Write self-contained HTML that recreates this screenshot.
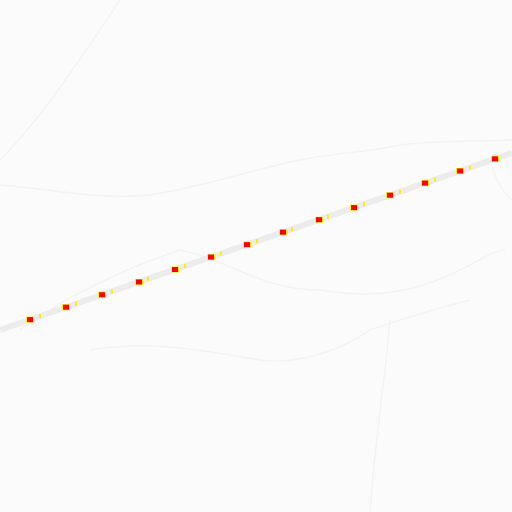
<!DOCTYPE html>
<html><head><meta charset="utf-8"><style>
html,body{margin:0;padding:0;background:#fbfbfb;width:512px;height:512px;overflow:hidden}
</style></head><body>
<svg id="map" width="512" height="512" viewBox="0 0 512 512" xmlns="http://www.w3.org/2000/svg">
<rect width="512" height="512" fill="#fbfbfb"/>
<g fill="none" stroke="#f3f3f3" stroke-width="1.5">
<path d="M0 185 C60 190 100 200 150 195 C210 185 250 170 300 160 C340 152 370 152 400 145 C440 140 470 142 512 140"/>
<path d="M0 160 C40 120 80 60 120 0"/>
<path d="M20 330 C60 300 120 270 180 250 C230 260 260 290 320 290 C380 300 420 290 460 270 C480 260 495 250 505 250"/>
<path d="M90 350 C150 340 200 350 260 360 C300 365 340 350 370 330 C400 320 430 310 470 300"/>
<path d="M390 320 C385 380 375 440 370 512"/>
<path d="M490 160 C495 180 505 195 512 200"/>
</g>
<g id="route"></g>
</svg>
<script>
const redX = [30,66,102,139,175,211,247,283,319,354,390,425,460,495];
const yellowX = [40,76,112,148,185,221,257,292,328,364,400,435,470];
function yAt(x){ return 330 - (330-153)*(x/512); }
const NS="http://www.w3.org/2000/svg";
const g=document.getElementById('route');
const line=document.createElementNS(NS,'line');
line.setAttribute('x1',0);line.setAttribute('y1',yAt(0));
line.setAttribute('x2',512);line.setAttribute('y2',yAt(512));
line.setAttribute('stroke','#ececec');line.setAttribute('stroke-width','6');


g.appendChild(line);
yellowX.forEach(x=>{
  const r=document.createElementNS(NS,'rect');
  r.setAttribute('x',x-1);r.setAttribute('y',yAt(x)-2);r.setAttribute('width',2);r.setAttribute('height',4);
  r.setAttribute('fill','#ffee00');
  
  
  g.appendChild(r);
});
redX.forEach(x=>{
  const h=document.createElementNS(NS,'rect');
  h.setAttribute('x',x-4);h.setAttribute('y',yAt(x)-3);h.setAttribute('width',8);h.setAttribute('height',6);
  h.setAttribute('fill','#ffee00');
  
  
  g.appendChild(h);
  const r=document.createElementNS(NS,'rect');
  r.setAttribute('x',x-3);r.setAttribute('y',yAt(x)-2.5);r.setAttribute('width',6);r.setAttribute('height',5);
  r.setAttribute('fill','#ff0000');
  
  
  g.appendChild(r);
});
</script>
</body></html>
